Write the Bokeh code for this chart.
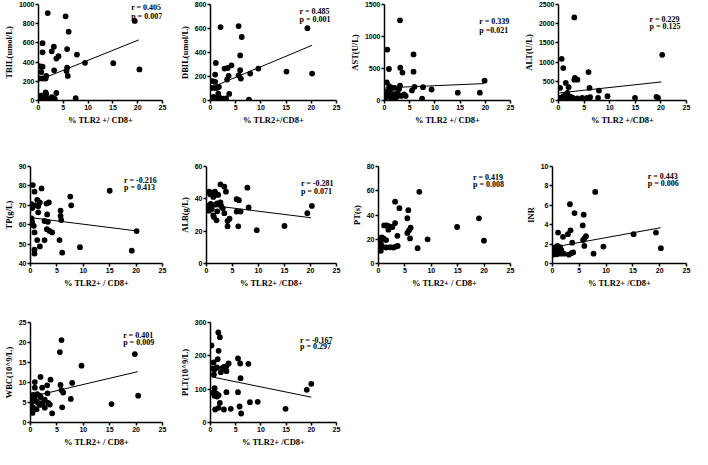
from bokeh.plotting import figure
from bokeh.layouts import column, row
from bokeh.models import Label, FixedTicker
from bokeh.embed import file_html
from bokeh.resources import INLINE

# ---------------- data ----------------
x_ticks = [0, 5, 10, 15, 20, 25]

tbil_x = [1.86, 5.46, 19.4, 6.08, 0.81, 3.1, 2.67, 0.81, 5.77, 7.75, 4.03, 3.6, 9.37, 15.07, 20.35, 5.77, 5.65, 5.9, 3.16, 0.19, 0.81, 0.56, 0.19, 0.81, 1.43, 1.55, 0.5, 1.43, 1.55, 3.6, 2.67, 2.36, 3.29, 0.06, 0.5, 1.1, 1.74, 7.5, 0.3, 2.9, 1.3]
tbil_y = [911, 877, 829, 717, 597, 560, 512, 502, 536, 478, 461, 437, 392, 389, 324, 341, 307, 256, 314, 358, 352, 297, 229, 229, 229, 256, 51, 85, 68, 78, 34, 17, 17, 17, 17, 17, 17, 24, 40, 25, 10]

dbil_x = [1.99, 5.58, 19.23, 6.2, 5.89, 1.05, 4.16, 2.79, 3.41, 9.49, 15.07, 20.16, 7.88, 0.93, 5.89, 5.58, 6.02, 3.6, 3.29, 0.43, 0.93, 0.19, 0.81, 1.24, 1.67, 1.55, 3.72, 0.93, 1.86, 3.1, 0.31, 7.63, 1.3, 2.5, 0.6]
dbil_y = [612, 620, 603, 529, 376, 313, 293, 266, 271, 266, 241, 224, 224, 216, 252, 210, 183, 205, 174, 161, 155, 105, 105, 105, 114, 58, 55, 22, 22, 17, 8, 8, 12, 15, 30]

ast_x = [3.07, 0.56, 5.76, 0.88, 3.13, 5.76, 3.57, 0.44, 3.07, 0.94, 5.95, 7.64, 9.34, 1.57, 2.0, 19.86, 5.45, 14.54, 18.92, 7.46, 3.9, 3.26, 4.2, 0.3, 0.75, 1.7, 2.3, 1.4, 0.15, 0.6, 1.1, 2.6, 1.9, 0.9, 2.9]
ast_y = [1252, 796, 720, 492, 512, 451, 436, 284, 233, 223, 213, 208, 172, 198, 198, 309, 157, 122, 122, 30, 96, 71, 71, 120, 95, 70, 45, 30, 40, 150, 160, 120, 100, 60, 180]

alt_x = [3.09, 0.62, 0.93, 20.25, 5.86, 3.21, 3.7, 3.09, 1.42, 0.31, 1.98, 6.05, 7.9, 1.73, 9.57, 14.94, 19.14, 19.44, 7.72, 6.17, 5.56, 4.63, 0.3, 0.93, 1.2, 1.85, 2.5, 2.8, 3.7, 0.1, 1.5, 2.2]
alt_y = [2164, 1086, 845, 1190, 741, 586, 543, 543, 457, 328, 345, 328, 259, 198, 112, 69, 95, 69, 69, 86, 69, 69, 69, 112, 86, 69, 86, 69, 52, 40, 150, 100]

tp_x = [0.44, 0.76, 2.09, 15.0, 7.53, 7.72, 1.27, 1.77, 3.48, 3.04, 0.19, 0.95, 1.46, 0.32, 5.7, 3.16, 5.7, 1.46, 0.19, 0.32, 2.66, 3.29, 5.82, 0.63, 3.1, 3.6, 4.1, 0.76, 20.1, 1.27, 2.66, 5.5, 1.77, 9.37, 0.76, 0.76, 6.0, 19.18]
tp_y = [80.4, 77.0, 78.7, 77.5, 74.5, 70.0, 72.8, 71.5, 71.5, 70.9, 70.6, 70.0, 69.5, 68.6, 67.3, 65.3, 64.5, 66.4, 63.2, 61.4, 61.9, 61.5, 62.4, 59.4, 57.7, 56.8, 56.0, 56.0, 56.7, 52.1, 52.1, 52.1, 48.8, 48.4, 47.1, 45.1, 45.6, 46.6]

alb_x = [2.68, 3.43, 7.86, 3.74, 0.5, 0.94, 1.62, 0.69, 2.06, 2.24, 1.31, 5.8, 6.23, 2.68, 2.06, 1.75, 0.81, 0.31, 2.81, 20.26, 8.1, 0.5, 1.0, 2.06, 3.12, 5.8, 6.55, 19.39, 3.43, 1.31, 1.43, 4.43, 4.05, 1.93, 4.05, 6.11, 15.0, 9.66]
alb_y = [48.9, 47.5, 46.9, 44.4, 44.4, 43.8, 44.4, 42.8, 42.8, 42.4, 41.2, 39.8, 39.2, 37.8, 37.2, 36.4, 36.8, 35.8, 35.6, 35.6, 34.7, 32.7, 33.7, 32.3, 34.1, 32.1, 32.1, 31.1, 31.1, 29.7, 28.7, 27.7, 26.3, 26.7, 23.0, 23.0, 23.2, 20.6]

pt_x = [7.73, 3.14, 3.96, 5.65, 5.46, 19.03, 3.14, 3.58, 1.07, 1.57, 2.01, 2.64, 1.88, 6.09, 5.78, 5.46, 14.89, 5.97, 9.3, 19.97, 0.63, 0.94, 0.19, 1.44, 0.44, 0.1, 0.75, 1.44, 2.2, 2.83, 3.33, 3.64, 7.41, 0.44, 0.31]
pt_y = [59.1, 51.0, 45.6, 44.0, 37.3, 37.3, 33.3, 22.8, 31.4, 31.4, 30.6, 30.1, 27.9, 29.5, 27.4, 25.2, 30.1, 20.7, 19.9, 18.8, 21.5, 20.7, 19.3, 19.3, 17.2, 15.3, 14.0, 13.2, 13.4, 13.2, 14.0, 14.5, 12.6, 10.5, 12.6]

inr_x = [7.97, 3.25, 4.1, 5.82, 5.64, 3.37, 1.04, 2.88, 15.13, 19.3, 1.96, 6.25, 5.94, 5.7, 3.68, 5.94, 9.5, 20.22, 0.31, 0.61, 0.92, 1.41, 0.12, 0.43, 0.92, 1.65, 1.53, 2.14, 3.06, 3.55, 3.86, 7.66, 0.12, 0.8]
inr_y = [7.38, 6.11, 5.2, 5.03, 3.93, 3.42, 3.19, 3.02, 3.02, 3.19, 2.75, 2.82, 2.58, 2.42, 2.15, 1.81, 1.74, 1.58, 1.58, 1.68, 1.81, 1.68, 1.24, 1.07, 1.24, 1.41, 1.01, 1.01, 0.91, 1.07, 1.14, 1.01, 0.91, 0.95]

wbc_x = [5.87, 5.56, 19.76, 9.66, 1.89, 3.79, 0.82, 7.89, 3.16, 5.68, 0.82, 2.21, 5.87, 6.19, 3.22, 0.5, 1.26, 1.77, 1.96, 0.19, 0.82, 20.39, 7.64, 2.71, 3.35, 3.66, 15.34, 0.38, 1.14, 1.45, 1.77, 2.27, 0.19, 0.5, 2.71, 6.0, 1.14, 0.38, 4.1]
wbc_y = [20.6, 17.6, 17.1, 14.2, 11.4, 10.7, 10.1, 9.9, 9.3, 9.4, 8.7, 8.7, 8.1, 7.5, 7.3, 6.9, 7.1, 6.7, 6.3, 6.1, 6.5, 6.7, 5.9, 5.7, 4.9, 4.5, 4.6, 5.3, 5.3, 4.9, 4.4, 4.9, 4.1, 3.7, 3.7, 3.8, 3.3, 2.4, 2.3]

plt_x = [1.55, 1.86, 0.19, 1.61, 1.43, 5.46, 0.62, 5.89, 7.51, 3.6, 3.16, 2.67, 1.3, 2.36, 0.37, 0.81, 3.16, 2.05, 0.68, 5.96, 0.81, 3.16, 5.46, 0.37, 1.12, 0.81, 1.3, 1.61, 19.1, 20.0, 1.86, 7.82, 9.37, 5.77, 1.61, 0.93, 2.67, 4.03, 14.89, 6.08]
plt_y = [270, 256, 231, 215, 190, 192, 180, 177, 176, 177, 169, 167, 165, 163, 162, 160, 154, 151, 144, 133, 103, 91, 91, 89, 87, 80, 78, 82, 98, 116, 59, 61, 62, 48, 44, 39, 39, 41, 41, 27]

# regression lines (end points): x0, y0, x1, y1
tbil_fit = [0.19, 215, 20.2, 631]
dbil_fit = [0.43, 113, 20.16, 460]
ast_fit = [0.25, 198, 19.7, 264]
alt_fit = [0.19, 198, 20.1, 483]
tp_fit = [0.19, 63.6, 20.1, 56.8]
alb_fit = [0.31, 36.2, 20.1, 28.3]
pt_fit = None
inr_fit = [0.12, 1.68, 20.2, 3.69]
wbc_fit = [0.3, 6.5, 20.3, 12.7]
plt_fit = [0.19, 137, 20.0, 76]

y_labels = ["TBIL(umol/L)", "DBIL(umol/L)", "AST(U/L)", "ALT(U/L)", "TP(g/L)",
            "ALB(g/L)", "PT(s)", "INR", "WBC(10^9/L)", "PLT(10^9/L)"]
x_labels = ["% TLR2 +/ CD8+", "% TLR2+/CD8+", "% TLR2 +/ CD8+", "% TLR2 +/CD8+",
            "% TLR2+ / CD8+", "% TLR2+ /CD8+", "% TLR2+ / CD8+", "% TLR2+ /CD8+",
            "% TLR2+ / CD8+", "% TLR2+ /CD8+"]
y_ranges = [(0, 1000), (0, 800), (0, 1500), (0, 2500), (40, 90),
            (0, 60), (0, 80), (0, 10), (0, 25), (0, 300)]
y_tick_lists = [[0, 200, 400, 600, 800, 1000], [0, 200, 400, 600, 800], [0, 500, 1000, 1500],
                [0, 500, 1000, 1500, 2000, 2500], [40, 50, 60, 70, 80, 90], [0, 20, 40, 60],
                [0, 20, 40, 60, 80], [0, 2, 4, 6, 8, 10], [0, 5, 10, 15, 20, 25], [0, 100, 200, 300]]
r_texts = ["r = 0.405", "r = 0.485", "r = 0.339", "r = 0.229", "r = -0.216",
           "r = -0.281", "r = 0.419", "r = 0.443", "r = 0.401", "r = -0.167"]
p_texts = ["p = 0.007", "p = 0.001", "p =0.021", "p = 0.125", "p = 0.413",
           "p = 0.071", "p = 0.008", "p = 0.006", "p = 0.009", "p = 0.297"]

# ---------------- layout (positions as fractions of each frame) ----------------
ann_pos = [(0.747, 0.966, 0.877), (0.707, 0.931, 0.844), (0.752, 0.818, 0.73), (0.711, 0.848, 0.769),
           (0.709, 0.859, 0.785), (0.726, 0.822, 0.747), (0.716, 0.886, 0.812), (0.711, 0.896, 0.822),
           (0.702, 0.87, 0.80), (0.71, 0.823, 0.762)]
col_geom = [(176, 30, 14), (170, 28, 10), (174, 32, 10), (172, 32, 6)]   # width, left, right
row_geom = [(158, 4, 58), (158, 8, 53), (133, 6, 26)]                      # height, top, bottom

xs_all = [tbil_x, dbil_x, ast_x, alt_x, tp_x, alb_x, pt_x, inr_x, wbc_x, plt_x]
ys_all = [tbil_y, dbil_y, ast_y, alt_y, tp_y, alb_y, pt_y, inr_y, wbc_y, plt_y]
fits = [tbil_fit, dbil_fit, ast_fit, alt_fit, tp_fit, alb_fit, pt_fit, inr_fit, wbc_fit, plt_fit]

SERIF = "Liberation Serif"
SANS = "Liberation Sans"


def make(i, col, rw):
    w, bl, br = col_geom[col]
    h, bt, bb = row_geom[rw]
    yr = y_ranges[i]
    p = figure(width=w, height=h, x_range=(0, 25), y_range=yr,
               output_backend="svg", toolbar_location=None,
               min_border_left=bl, min_border_right=br,
               min_border_top=bt, min_border_bottom=bb)
    p.outline_line_color = None
    p.grid.visible = False
    p.background_fill_color = "white"
    p.border_fill_color = "white"
    p.xaxis.ticker = FixedTicker(ticks=x_ticks)
    p.yaxis.ticker = FixedTicker(ticks=y_tick_lists[i])
    p.xaxis.axis_label = x_labels[i]
    p.yaxis.axis_label = y_labels[i]
    for ax in (p.xaxis[0], p.yaxis[0]):
        ax.axis_line_width = 1.5
        ax.axis_line_color = "black"
        ax.major_tick_line_width = 1.5
        ax.major_tick_line_color = "black"
        ax.major_tick_out = 3
        ax.major_tick_in = 0
        ax.minor_tick_line_color = None
        ax.major_label_text_font = SANS
        ax.major_label_text_font_style = "bold"
        ax.major_label_text_font_size = "7px"
        ax.major_label_text_color = "black"
        ax.major_label_standoff = 1
        ax.axis_label_text_font = SERIF
        ax.axis_label_text_font_style = "bold"
        ax.axis_label_text_font_size = "8.5px"
        ax.axis_label_text_color = "black"
        ax.axis_label_standoff = 2

    f = fits[i]
    if f is not None:
        p.line([f[0], f[2]], [f[1], f[3]], line_color="black", line_width=1)
    p.scatter(xs_all[i], ys_all[i], marker="circle", size=5.8,
              fill_color="black", line_color=None)

    fx, fy1, fy2 = ann_pos[i]
    y0, y1 = yr
    for txt, fy in ((r_texts[i], fy1), (p_texts[i], fy2)):
        p.add_layout(Label(x=25 * fx, y=y0 + (y1 - y0) * fy, text=txt,
                           text_font=SERIF, text_font_style="bold",
                           text_font_size="8px", text_baseline="middle",
                           text_color="black"))
    return p


idx = 0
rows = []
for rw, ncols in enumerate([4, 4, 2]):
    r_figs = []
    for c in range(ncols):
        r_figs.append(make(idx, c, rw))
        idx += 1
    rows.append(row(*r_figs))

layout = column(*rows)
open("out.html", "w").write(file_html(layout, INLINE))
